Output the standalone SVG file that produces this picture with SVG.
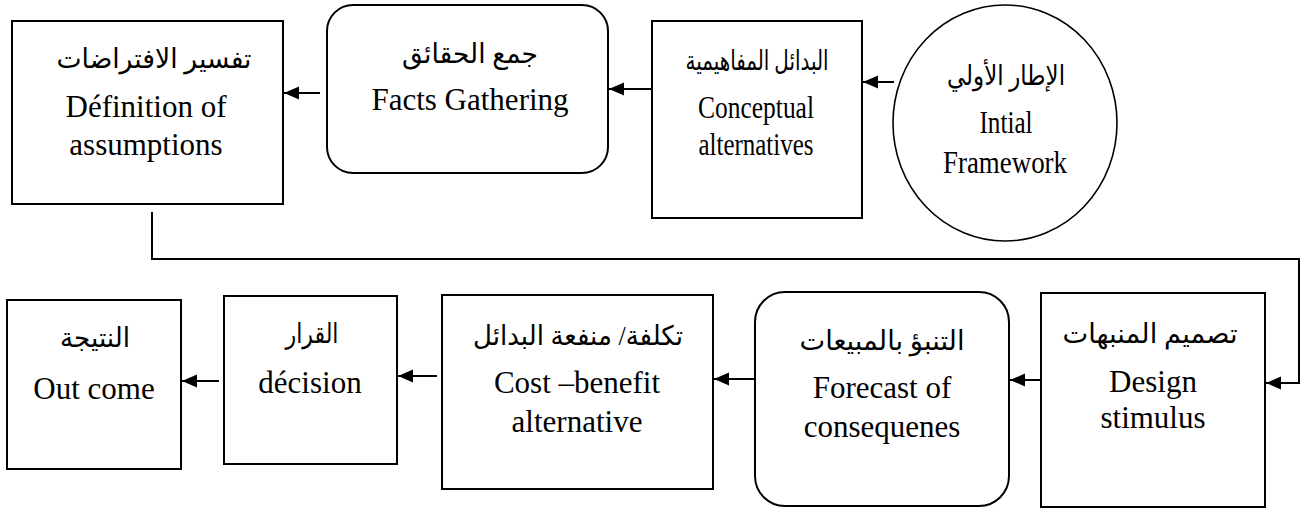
<svg xmlns="http://www.w3.org/2000/svg" width="1303" height="509" viewBox="0 0 1303 509">
  <style>
    .box { fill: #fff; stroke: #000; stroke-width: 2; }
    .oval { fill: #fff; stroke: #000; stroke-width: 1.6; }
    .en { font-family: "Liberation Serif", "Times New Roman", serif; font-size: 31px; fill: #000; text-anchor: middle; }
    .ar { font-family: "Liberation Serif", "DejaVu Sans", "Noto Sans", sans-serif; font-size: 27px; fill: #000; text-anchor: middle; direction: rtl; }
    .link { fill: none; stroke: #000; stroke-width: 2; }
  </style>
  <defs>
    <marker id="head" markerUnits="userSpaceOnUse" markerWidth="16" markerHeight="14" refX="15" refY="6.5" orient="auto">
      <path d="M0,0 L15,6.5 L0,13 z" fill="#000"/>
    </marker>
  </defs>

  <rect width="1303" height="509" fill="#fff"/>

  <!-- top row -->
  <g id="node-assumptions">
    <rect class="box" x="12" y="21" width="271" height="183"/>
    <text class="ar" x="154" y="68" textLength="195" lengthAdjust="spacingAndGlyphs">تفسير الافتراضات</text>
    <text class="en" x="146" y="117">Définition of</text>
    <text class="en" x="146" y="155">assumptions</text>
  </g>

  <g id="node-facts">
    <rect class="box" x="327" y="5" width="281" height="168" rx="26" ry="26"/>
    <text class="ar" x="470" y="63" textLength="136" lengthAdjust="spacingAndGlyphs">جمع الحقائق</text>
    <text class="en" x="470" y="110">Facts Gathering</text>
  </g>

  <g id="node-conceptual">
    <rect class="box" x="652" y="21" width="210" height="197"/>
    <text class="ar" x="757" y="70" textLength="143" lengthAdjust="spacingAndGlyphs">البدائل المفاهيمية</text>
    <text class="en" x="756" y="118" textLength="116" lengthAdjust="spacingAndGlyphs">Conceptual</text>
    <text class="en" x="756" y="155" textLength="115" lengthAdjust="spacingAndGlyphs">alternatives</text>
  </g>

  <g id="node-framework">
    <ellipse class="oval" cx="1005" cy="123" rx="112" ry="118"/>
    <text class="ar" x="1006" y="85" textLength="118" lengthAdjust="spacingAndGlyphs">الإطار الأولي</text>
    <text class="en" x="1006" y="133" textLength="53" lengthAdjust="spacingAndGlyphs">Intial</text>
    <text class="en" x="1005" y="173" textLength="124" lengthAdjust="spacingAndGlyphs">Framework</text>
  </g>

  <!-- bottom row -->
  <g id="node-outcome">
    <rect class="box" x="7" y="300" width="174" height="169"/>
    <text class="ar" x="95" y="347" textLength="70" lengthAdjust="spacingAndGlyphs">النتيجة</text>
    <text class="en" x="94" y="399">Out come</text>
  </g>

  <g id="node-decision">
    <rect class="box" x="224" y="296" width="173" height="168"/>
    <text class="ar" x="312" y="343" textLength="53" lengthAdjust="spacingAndGlyphs">القرار</text>
    <text class="en" x="310" y="393">décision</text>
  </g>

  <g id="node-costbenefit">
    <rect class="box" x="442" y="295" width="271" height="194"/>
    <text class="ar" x="578" y="345" textLength="210" lengthAdjust="spacingAndGlyphs">تكلفة/ منفعة البدائل</text>
    <text class="en" x="577" y="393">Cost –benefit</text>
    <text class="en" x="577" y="432">alternative</text>
  </g>

  <g id="node-forecast">
    <rect class="box" x="755" y="292" width="254" height="214" rx="30" ry="30"/>
    <text class="ar" x="882" y="350" textLength="165" lengthAdjust="spacingAndGlyphs">التنبؤ بالمبيعات</text>
    <text class="en" x="882" y="398">Forecast of</text>
    <text class="en" x="882" y="437">consequenes</text>
  </g>

  <g id="node-design">
    <rect class="box" x="1041" y="293" width="224" height="214"/>
    <text class="ar" x="1150" y="343" textLength="175" lengthAdjust="spacingAndGlyphs">تصميم المنبهات</text>
    <text class="en" x="1153" y="392">Design</text>
    <text class="en" x="1153" y="428">stimulus</text>
  </g>

  <!-- connectors -->
  <g id="connectors">
    <line class="link" x1="894" y1="82" x2="863" y2="82" marker-end="url(#head)"/>
    <line class="link" x1="652" y1="89" x2="609" y2="89" marker-end="url(#head)"/>
    <line class="link" x1="320" y1="93" x2="284" y2="93" marker-end="url(#head)"/>
    <polyline class="link" points="152,212 152,259 1299,259 1299,383 1266,383" marker-end="url(#head)"/>
    <line class="link" x1="1040" y1="380" x2="1010" y2="380" marker-end="url(#head)"/>
    <line class="link" x1="754" y1="379" x2="714" y2="379" marker-end="url(#head)"/>
    <line class="link" x1="437" y1="376" x2="398" y2="376" marker-end="url(#head)"/>
    <line class="link" x1="219" y1="381" x2="182" y2="381" marker-end="url(#head)"/>
  </g>
</svg>
